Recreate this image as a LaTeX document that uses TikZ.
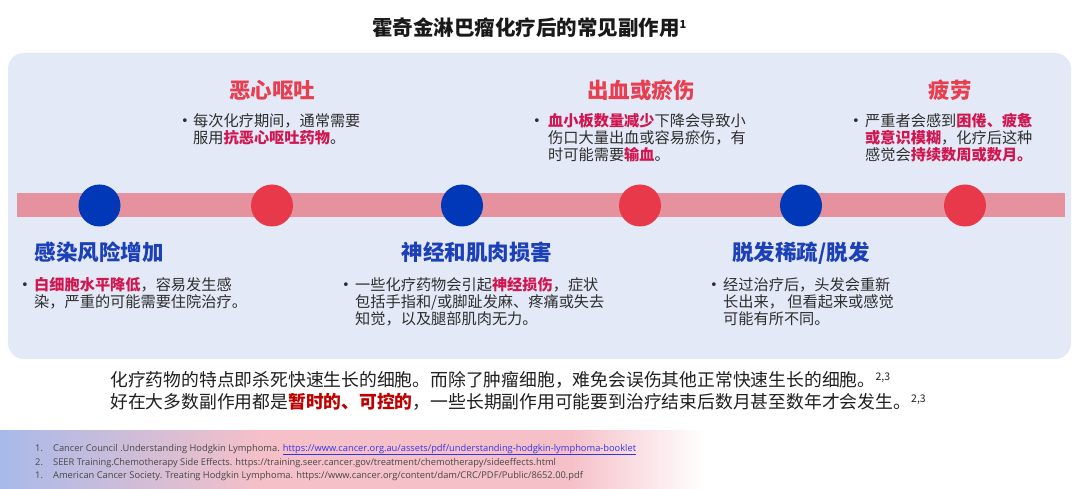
\documentclass[tikz,border=0pt]{standalone}
\usepackage{fontspec}
\setmainfont{Noto Sans CJK SC}
\newfontfamily\reffont{Open Sans}
\newfontfamily\symfont{DejaVu Sans}
\definecolor{panel}{HTML}{E4E9F7}
\definecolor{band}{HTML}{E6919E}
\definecolor{dotblue}{HTML}{0038B8}
\definecolor{dotred}{HTML}{E8394A}
\definecolor{headred}{HTML}{E83E50}
\definecolor{headblue}{HTML}{1C40B8}
\definecolor{hlc}{HTML}{D0164E}
\definecolor{darkred}{HTML}{C00000}
\definecolor{bodytxt}{HTML}{2E2E2E}
\definecolor{fblue}{HTML}{A8BAE9}
\definecolor{fpink}{HTML}{F5C0C8}
\definecolor{linkc}{HTML}{3535E8}
\newcommand\kw[1]{{\bfseries\color{hlc}#1}}
\tikzset{
  heading/.style={font=\fontsize{21.5}{24}\selectfont\bfseries, anchor=base, inner sep=0},
  redhead/.style={heading, text=headred},
  bluehead/.style={heading, text=headblue},
  bul/.style={font=\fontsize{15.2}{16.7}\selectfont, text=bodytxt, anchor=base west, inner sep=0},
  bulmark/.style={font=\symfont\fontsize{13}{14}\selectfont, text=bodytxt, anchor=base west, inner sep=0},
  dotnode/.style={circle, minimum size=42pt, inner sep=0},
  reftxt/.style={font=\reffont\fontsize{9.3}{10}\selectfont, text=black!72, anchor=base west, inner sep=0},
}
\begin{document}
\begin{tikzpicture}[x=1pt,y=-1pt]
\useasboundingbox (0,0) rectangle (1080,489);
\fill[white] (0,0) rectangle (1080,489);

% title
\node[font=\fontsize{20.5}{23}\selectfont\bfseries, anchor=base west, inner sep=0, text=black!90] (title) at (372,35.3)
  {霍奇金淋巴瘤化疗后的常见副作用\raisebox{7pt}{\fontsize{11}{12}\selectfont 1}};

% panel
\fill[panel, rounded corners=16pt] (8,53) rectangle (1071,359);

% band
\fill[band] (17,193) rectangle (1065,217);

% dots
\node[dotnode, fill=dotblue] (c1) at (99.5,205.5) {};
\node[dotnode, fill=dotred]  (c2) at (272,205.5) {};
\node[dotnode, fill=dotblue] (c3) at (462,205.5) {};
\node[dotnode, fill=dotred]  (c4) at (640,205.5) {};
\node[dotnode, fill=dotblue] (c5) at (801,205.5) {};
\node[dotnode, fill=dotred]  (c6) at (965,205.5) {};

% top headings
\node[redhead] (h2) at (272,99) {恶心呕吐};
\node[redhead] (h4) at (641,99) {出血或瘀伤};
\node[redhead] (h6) at (950,99) {疲劳};

% bottom headings
\node[bluehead] (h1) at (99,261) {感染风险增加};
\node[bluehead] (h3) at (477,261) {神经和肌肉损害};
\node[bluehead] (h5) at (801,261) {脱发稀疏/脱发};

% top bullets
\node[bulmark] (b2) at (181,126) {•};
\node[bul] (t2) at (193,127) {\parbox[t]{300pt}{\leavevmode 每次化疗期间，通常需要\\服用\kw{抗恶心呕吐药物}。}};
\node[bulmark] (b4) at (533,126) {•};
\node[bul] (t4) at (548,127) {\parbox[t]{300pt}{\leavevmode\kw{血小板数量减少}下降会导致小\\伤口大量出血或容易瘀伤，有\\时可能需要\kw{输血}。}};
\node[bulmark] (b6) at (852,126) {•};
\node[bul] (t6) at (865,127) {\parbox[t]{300pt}{\leavevmode 严重者会感到\kw{困倦、疲惫}\\\kw{或意识模糊}，化疗后这种\\感觉会\kw{持续数周或数月。}}};

% bottom bullets
\node[bulmark] (b1) at (21,290) {•};
\node[bul] (t1) at (34,291) {\parbox[t]{300pt}{\leavevmode\kw{白细胞水平降低}，容易发生感\\染，严重的可能需要住院治疗。}};
\node[bulmark] (b3) at (342,290) {•};
\node[bul] (t3) at (355,291) {\parbox[t]{300pt}{\leavevmode 一些化疗药物会引起\kw{神经损伤}，症状\\包括手指和/或脚趾发麻、疼痛或失去\\知觉，以及腿部肌肉无力。}};
\node[bulmark] (b5) at (710,290) {•};
\node[bul] (t5) at (723,291) {\parbox[t]{300pt}{\leavevmode 经过治疗后，头发会重新\\长出来， 但看起来或感觉\\可能有所不同。}};

% summary text
\node[font=\fontsize{17.8}{22}\selectfont, text=black!88, anchor=base west, inner sep=0] (sum) at (110,386.5)
  {\parbox[t]{900pt}{\leavevmode 化疗药物的特点即杀死快速生长的细胞。而除了肿瘤细胞，难免会误伤其他正常快速生长的细胞。\raisebox{6pt}{\fontsize{10.5}{11}\selectfont 2,3}\\
  好在大多数副作用都是{\bfseries\color{darkred}暂时的、可控的}，一些长期副作用可能要到治疗结束后数月甚至数年才会发生。\raisebox{6pt}{\fontsize{10.5}{11}\selectfont 2,3}}};

% footer gradient
\shade[left color=fblue, right color=fpink] (0,430) rectangle (260,489);
\fill[fpink] (260,430) rectangle (570,489);
\shade[left color=fpink, right color=white] (569.5,430) rectangle (705,489);

% references
\node[reftxt] (n1) at (35,451) {1.};
\node[reftxt] (r1) at (53,451) {Cancer Council .Understanding Hodgkin Lymphoma. \textcolor{linkc}{\underline{https://www.cancer.org.au/assets/pdf/understanding-hodgkin-lymphoma-booklet}}};
\node[reftxt] (n2) at (35,465) {2.};
\node[reftxt] (r2) at (53,465) {SEER Training.Chemotherapy Side Effects. https://training.seer.cancer.gov/treatment/chemotherapy/sideeffects.html};
\node[reftxt] (n3) at (35,478.5) {1.};
\node[reftxt] (r3) at (53,478.5) {American Cancer Society. Treating Hodgkin Lymphoma. https://www.cancer.org/content/dam/CRC/PDF/Public/8652.00.pdf};
\end{tikzpicture}
\end{document}
